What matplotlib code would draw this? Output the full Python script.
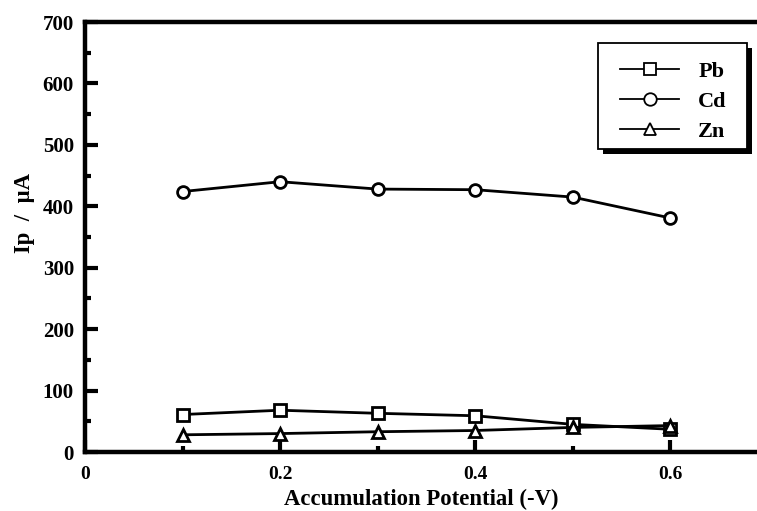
import matplotlib
matplotlib.use("Agg")
import matplotlib.pyplot as plt
from matplotlib.ticker import MultipleLocator
from matplotlib.patches import Rectangle

potential = [0.1, 0.2, 0.3, 0.4, 0.5, 0.6]
pb = [61, 68, 63, 59, 45, 37]
cd = [424, 440, 428, 427, 415, 381]
zn = [28, 30, 33, 35, 40, 43]

plt.rcParams['font.family'] = ['Liberation Serif', 'DejaVu Serif']
plt.rcParams['font.weight'] = 'bold'

W, H = 757, 511
fig = plt.figure(figsize=(W/100, H/100), dpi=100)
ax = fig.add_axes([85/W, 1-452/H, 1-85/W, (452-22)/H])

kw = dict(color='black', lw=2, mfc='white', mec='black', mew=2, ms=8.5)
ax.plot(potential, pb, marker='s', label='Pb', **kw)
ax.plot(potential, cd, marker='o', label='Cd', **kw)
ax.plot(potential, zn, marker='^', label='Zn', **kw)

ax.set_xlim(0, 0.689)
ax.set_ylim(0, 700)
ax.xaxis.set_major_locator(MultipleLocator(0.2))
ax.xaxis.set_minor_locator(MultipleLocator(0.1))
ax.yaxis.set_major_locator(MultipleLocator(100))
ax.yaxis.set_minor_locator(MultipleLocator(50))
ax.xaxis.set_major_formatter(plt.FuncFormatter(lambda v, p: '0' if v == 0 else f'{v:.1f}'))

for s in ['left', 'bottom', 'top']:
    ax.spines[s].set_linewidth(3.2)
ax.spines['right'].set_visible(False)
ax.tick_params(which='major', direction='in', length=9, width=3)
ax.tick_params(which='minor', direction='in', length=4, width=3)
ax.tick_params(axis='x', pad=10, labelsize=14)
ax.tick_params(axis='y', pad=8, labelsize=15)
for t in ax.get_xticklabels() + ax.get_yticklabels():
    t.set_fontweight('bold')

ax.set_xlabel('Accumulation Potential (-V)', fontsize=16.4, fontweight='bold', labelpad=4.5)
ax.set_ylabel('Ip  /  μA', fontsize=16.4, fontweight='bold')
ax.yaxis.set_label_coords(-0.074, 0.556)

leg = ax.legend(loc='upper left', bbox_to_anchor=(620/W, 1-61.5/H), bbox_transform=fig.transFigure,
                borderaxespad=0, frameon=False,
                handlelength=2.66, handletextpad=0.86, borderpad=0, labelspacing=0.42,
                prop={'weight': 'bold', 'size': 16})
for h in leg.get_lines():
    h.set_linewidth(1.3)
    h.set_markeredgewidth(1.3)
    h.set_markersize(9)
leg.set_zorder(10)

# legend frame with solid drop shadow
bx0, by0, bx1, by1 = 598, 43, 747, 149
frame_xy = (bx0/W, 1-by1/H)
fw, fh = (bx1-bx0)/W, (by1-by0)/H
ax.add_patch(Rectangle((frame_xy[0] + 5/W, frame_xy[1] - 5/H), fw, fh, transform=fig.transFigure,
                       facecolor='black', edgecolor='black', lw=0, zorder=8, clip_on=False))
ax.add_patch(Rectangle(frame_xy, fw, fh, transform=fig.transFigure,
                       facecolor='white', edgecolor='black', lw=1.3, zorder=9, clip_on=False))

fig.savefig('out.png', dpi=100)
